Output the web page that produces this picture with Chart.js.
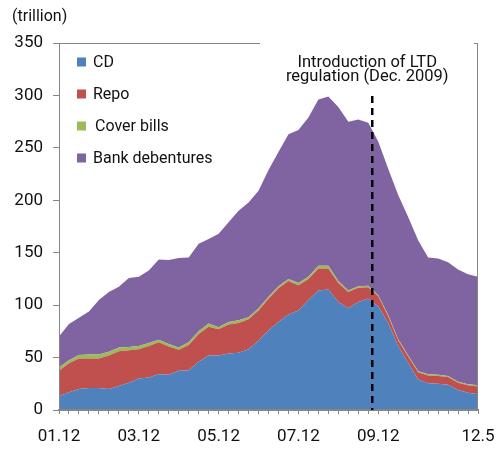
<!DOCTYPE html>
<html lang="en">
<head>
<meta charset="UTF-8" />
<title>CD, Repo, Cover bills and Bank debentures</title>
<script src="https://cdn.jsdelivr.net/npm/chart.js"></script>
<style>
  html, body { margin: 0; padding: 0; background: #fff; }
  #wrap { width: 496px; height: 450px; }
</style>
</head>
<body>
<div id="wrap"><canvas id="chart" width="496" height="450"></canvas></div>
<script>
// quarterly, end of period (trillion won)
const categories = [
  '01.12',
  '02.3', '02.6', '02.9', '02.12',
  '03.3', '03.6', '03.9', '03.12',
  '04.3', '04.6', '04.9', '04.12',
  '05.3', '05.6', '05.9', '05.12',
  '06.3', '06.6', '06.9', '06.12',
  '07.3', '07.6', '07.9', '07.12',
  '08.3', '08.6', '08.9', '08.12',
  '09.3', '09.6', '09.9', '09.12',
  '10.3', '10.6', '10.9', '10.12',
  '11.3', '11.6', '11.9', '11.12',
  '12.3', '12.5'
];
const shownXLabels = ['01.12', '03.12', '05.12', '07.12', '09.12', '12.5'];

const cd = [13, 17, 20, 21, 21, 20, 23, 26, 30, 31, 34, 33.5, 37.5, 38, 46, 52, 52, 54, 54.5, 58,
  66, 76, 84, 91, 95, 105, 114, 115, 103, 97, 103, 106, 99, 83, 61, 45, 29, 25.5, 25, 24, 19, 16.5, 15];
const repo = [24.5, 27.5, 29, 28, 28, 32, 33, 31, 28, 30, 30.5, 27, 20, 24, 26.5, 27.5, 25, 27.5, 28.5, 28.5,
  29, 30, 32, 32, 24, 20, 21, 20, 18, 15.5, 13.5, 11, 9.5, 6.5, 5.5, 6, 7, 7.5, 7.5, 7.5, 7, 7, 7.5];
const coverBills = [3, 3, 3.5, 4, 4, 3.5, 3.5, 3, 3, 3, 2.5, 2.5, 2, 2.5, 2.5, 3, 2, 2.5, 2.5, 2,
  2, 2, 2, 2, 2, 2, 2.5, 2.5, 2, 1.5, 1.5, 1.5, 1, 1, 1, 1, 1, 1, 1, 1, 1, 1, 1];
const bankDebentures = [29.5, 34.5, 35.5, 41, 52, 57, 58, 66, 66, 69, 76.5, 80, 85.5, 81, 83.5, 80.5, 89, 95, 104.5, 109.5,
  112, 121, 128, 138, 146, 152, 158.5, 161.5, 166, 161, 159, 155.5, 146.5, 139.5, 137.5, 132, 125, 111.5, 111, 108.5, 107, 105, 103.5];

// LTD regulation marker sits a little before the 09.12 point
const ltdIndex = 31.4;

const colors = {
  cd: '#4F81BD',
  repo: '#C0504D',
  cover: '#9BBB59',
  bank: '#8064A2'
};
const axisGrey = '#868686';
const textColor = '#111';
const fontFamily = 'Roboto, "Open Sans", sans-serif';

const series = [
  { label: 'CD', data: cd, color: colors.cd },
  { label: 'Repo', data: repo, color: colors.repo },
  { label: 'Cover bills', data: coverBills, color: colors.cover },
  { label: 'Bank debentures', data: bankDebentures, color: colors.bank }
];

const decorations = {
  id: 'decorations',
  afterDatasetsDraw(chart) {
    const { ctx, chartArea: a, scales: { x } } = chart;
    ctx.save();

    // plot frame
    ctx.strokeStyle = axisGrey;
    ctx.lineWidth = 1;
    ctx.strokeRect(a.left + 0.5, a.top + 0.5, a.right - a.left - 1, a.bottom - a.top);
    ctx.lineWidth = 2;
    ctx.beginPath();
    ctx.moveTo(a.left, a.bottom);
    ctx.lineTo(a.right, a.bottom);
    ctx.stroke();

    // dashed marker
    const lx = x.getPixelForValue(ltdIndex);
    ctx.setLineDash([7, 5]);
    ctx.lineWidth = 2.5;
    ctx.strokeStyle = '#000';
    ctx.beginPath();
    ctx.moveTo(lx, a.top + 53);
    ctx.lineTo(lx, a.bottom);
    ctx.stroke();
    ctx.setLineDash([]);

    // annotation text box
    ctx.fillStyle = '#fff';
    ctx.fillRect(260, a.top - 4, a.right - 4 - 260, 50);
    ctx.fillStyle = textColor;
    ctx.font = '16.5px ' + fontFamily;
    ctx.textAlign = 'center';
    ctx.textBaseline = 'alphabetic';
    ctx.fillText('Introduction of LTD', lx - 5, 67);
    ctx.fillText('regulation (Dec. 2009)', lx - 5, 81);

    // unit label
    ctx.textAlign = 'left';
    ctx.textBaseline = 'middle';
    ctx.font = '16px ' + fontFamily;
    ctx.fillText('(trillion)', 12, 17);

    // legend
    const rows = [62, 94, 126, 158];
    ctx.font = '16px ' + fontFamily;
    series.forEach((s, i) => {
      ctx.fillStyle = s.color;
      ctx.fillRect(77, rows[i] - 4.5, 9, 9);
      ctx.fillStyle = textColor;
      ctx.fillText(s.label, i === 2 ? 95 : 93, rows[i] + 1);
    });

    ctx.restore();
  }
};

new Chart(document.getElementById('chart').getContext('2d'), {
  type: 'line',
  data: {
    labels: categories,
    datasets: series.map((s, i) => ({
      label: s.label,
      data: s.data,
      backgroundColor: s.color,
      borderColor: s.color,
      borderWidth: 0,
      pointRadius: 0,
      tension: 0,
      fill: i === 0 ? 'origin' : '-1'
    }))
  },
  options: {
    responsive: false,
    animation: false,
    layout: { padding: { top: 43, right: 18, left: 0, bottom: 0 } },
    plugins: {
      legend: { display: false },
      tooltip: { enabled: false }
    },
    scales: {
      x: {
        offset: false,
        grid: { drawOnChartArea: false, drawTicks: true, tickLength: 4, color: axisGrey },
        border: { color: axisGrey, width: 2 },
        ticks: {
          autoSkip: false,
          maxRotation: 0,
          padding: 13,
          color: textColor,
          font: { family: fontFamily, size: 17 },
          callback(value) {
            const l = categories[value];
            return shownXLabels.includes(l) ? l : '';
          }
        },
        afterFit(scale) {
          scale.height = 40;
          scale.paddingLeft = 0;
          scale.paddingRight = 0;
        }
      },
      y: {
        stacked: true,
        min: 0,
        max: 350,
        grid: { drawOnChartArea: false, tickLength: 6, color: axisGrey },
        border: { color: axisGrey },
        ticks: {
          stepSize: 50,
          padding: 10,
          color: textColor,
          font: { family: fontFamily, size: 17 }
        },
        afterFit(scale) {
          scale.width = 59;
          scale.paddingTop = 0;
          scale.paddingBottom = 0;
        }
      }
    }
  },
  plugins: [decorations]
});
</script>
</body>
</html>
